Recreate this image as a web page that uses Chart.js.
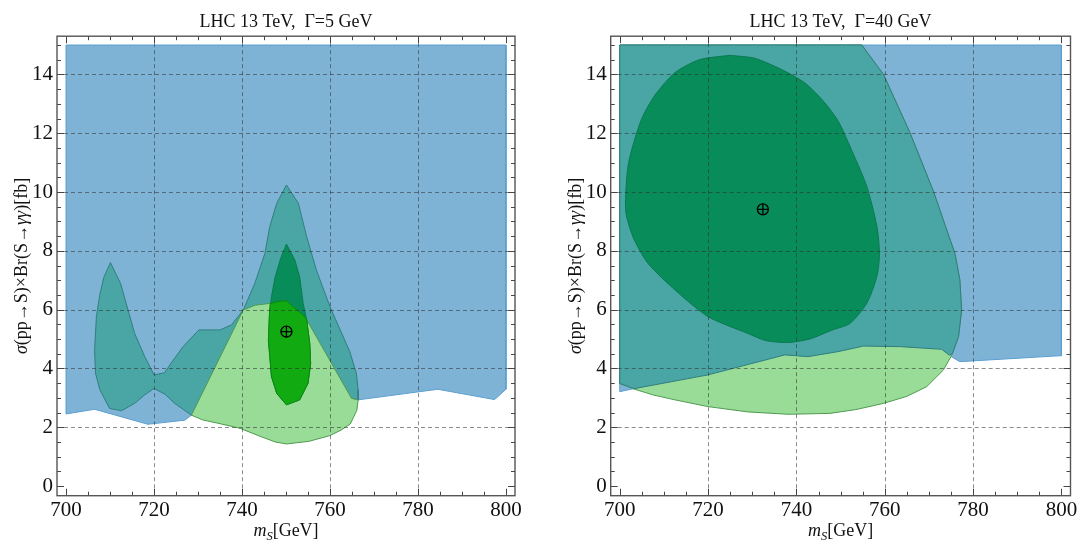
<!DOCTYPE html>
<html>
<head>
<meta charset="utf-8">
<script src="https://cdn.jsdelivr.net/npm/chart.js"></script>
<style>
  html, body { margin: 0; padding: 0; background: #fff; }
  #wrap { position: relative; width: 1078px; height: 541px; overflow: hidden; }
  canvas { position: absolute; top: 0; }
  #left { left: 0; }
  #right { left: 539px; }
</style>
</head>
<body>
<div id="wrap">
  <canvas id="left" width="539" height="541"></canvas>
  <canvas id="right" width="539" height="541"></canvas>
</div>
<script>
// Ejes
const xTicks = [700, 720, 740, 760, 780, 800];
const yTicks = [0, 2, 4, 6, 8, 10, 12, 14];

// Panel izquierdo (Gamma = 5 GeV)
const leftBlueX = [700, 800, 800, 797.4, 784.5, 766.4, 728.5, 727.0, 718.6, 706.5, 700, 700];
const leftBlueY = [15, 15, 3.29, 2.94, 3.29, 2.93, 2.41, 2.24, 2.10, 2.61, 2.45, 15];

const leftTealX = [720.0, 722.4, 723.6, 726.6, 730.2, 735.0, 737.6, 740.3, 742.9, 745.2, 746.3, 747.9, 750.1, 752.8, 754.7, 756.9, 760.0, 764.5, 766.0, 766.4, 766.4, 764.9, 745.0, 728.5, 724.7, 722.5, 720.0, 717.9, 715.6, 712.6, 709.9, 707.7, 706.7, 706.5, 706.9, 707.7, 708.6, 710.1, 712.4, 715.6, 717.9, 720.0];
const leftTealY = [3.78, 3.85, 4.12, 4.74, 5.31, 5.31, 5.48, 5.99, 6.89, 7.91, 8.82, 9.62, 10.24, 9.62, 8.48, 7.35, 6.10, 4.57, 3.83, 3.27, 2.93, 2.98, 2.2, 2.41, 2.81, 3.12, 3.32, 3.10, 2.81, 2.56, 2.64, 3.27, 3.83, 4.63, 5.76, 6.52, 7.1, 7.60, 6.89, 5.19, 4.40, 3.78];

const leftLightX = [728.5, 740.3, 743.0, 746.3, 750.1, 754.3, 764.9, 766.4, 766.1, 764.6, 762.5, 759.9, 755.2, 750.1, 747.5, 744.3, 739.6, 735.0, 731.0, 728.5];
const leftLightY = [2.41, 5.99, 6.15, 6.21, 6.30, 5.76, 2.98, 2.93, 2.57, 2.11, 1.90, 1.71, 1.52, 1.43, 1.50, 1.68, 1.96, 2.12, 2.25, 2.41];

const leftDarkX = [750.1, 752.0, 753.1, 753.9, 754.7, 755.4, 755.6, 755.0, 753.1, 750.1, 747.9, 746.7, 746.0, 746.3, 746.7, 747.5, 748.8, 750.1];
const leftDarkY = [8.23, 7.69, 7.12, 6.21, 5.65, 4.85, 4.17, 3.49, 2.93, 2.76, 3.15, 3.72, 4.97, 5.9, 6.44, 7.09, 7.75, 8.23];

const leftBrightX = [746.4, 748.0, 750.1, 752.0, 754.3, 754.7, 755.4, 755.6, 755.0, 753.1, 750.1, 747.9, 746.7, 746.0, 746.2, 746.4];
const leftBrightY = [6.20, 6.27, 6.30, 6.05, 5.76, 5.65, 4.85, 4.17, 3.49, 2.93, 2.76, 3.15, 3.72, 4.97, 5.8, 6.20];

const leftBest = [750.1, 5.25];

// Panel derecho (Gamma = 40 GeV)
const rightBlueX = [700, 800, 800, 798.5, 777.0, 774.8, 772.9, 763.5, 755.2, 749.4, 742.6, 737.4, 720.0, 703.4, 700, 700];
const rightBlueY = [15, 15, 4.43, 4.42, 4.23, 4.42, 4.65, 4.74, 4.76, 4.57, 4.40, 4.46, 3.78, 3.32, 3.21, 15];

const rightLightX = [700, 754.8, 759.7, 765.7, 771.0, 775.9, 777.0, 777.4, 776.7, 775.2, 773.3, 769.5, 765.0, 759.7, 753.5, 747.6, 738.1, 729.0, 720.0, 712.5, 707.5, 703.4, 700, 700];
const rightLightY = [15, 15, 14.0, 12.02, 10.03, 7.9, 7.01, 5.99, 5.08, 4.46, 3.95, 3.38, 3.05, 2.81, 2.60, 2.47, 2.44, 2.52, 2.70, 2.93, 3.10, 3.29, 3.49, 15];

const rightTealX = [700, 754.8, 759.7, 765.7, 771.0, 775.9, 777.0, 777.4, 776.7, 775.3, 774.6, 772.9, 763.5, 755.2, 749.4, 742.6, 737.4, 720.0, 703.2, 700, 700];
const rightTealY = [15, 15, 14.0, 12.02, 10.03, 7.9, 7.01, 5.99, 5.08, 4.5, 4.45, 4.65, 4.74, 4.76, 4.57, 4.40, 4.46, 3.78, 3.31, 3.49, 15];

const rightDarkX = [724.9, 730.5, 736.6, 742.0, 746.4, 749.5, 752.1, 755.9, 758.2, 758.8, 758.2, 755.9, 752.1, 748.0, 743.0, 738.1, 733.0, 729.0, 720.0, 712.5, 706.4, 703.2, 701.5, 701.3, 702.0, 704.9, 708.0, 712.5, 718.0, 724.9];
const rightDarkY = [14.65, 14.55, 14.17, 13.7, 13.04, 12.4, 11.56, 10.2, 8.84, 7.9, 7.12, 6.21, 5.53, 5.3, 5.0, 4.88, 4.95, 5.19, 5.76, 6.67, 7.57, 8.4, 9.2, 9.75, 11.0, 12.47, 13.3, 14.06, 14.5, 14.65];

const rightBest = [732.4, 9.41];

// Colores
const BLUE = '#7eb3d6', BLUE_EDGE = '#5a9fd0';
const TEAL = '#4aa5a5', TEAL_EDGE = '#2f7f80';
const LIGHT = '#98dc98', LIGHT_EDGE = '#4f9a4f';
const DARK = '#078c5a', DARK_EDGE = '#0a7a50';
const BRIGHT = '#11aa11', BRIGHT_EDGE = '#0c8a0c';

const SERIF = '"Liberation Serif", "DejaVu Serif", serif';

function region(xs, ys, fill, edge, tension) {
    return { xs: xs, ys: ys, fill: fill, edge: edge, tension: tension || 0 };
}

// Dibuja grilla punteada, marco y marcas hacia adentro
function frameAndGrid() {
    return {
        id: 'frameAndGrid',
        afterDatasetsDraw(chart) {
            const { ctx, chartArea: a } = chart;
            const sx = chart.scales.x, sy = chart.scales.y;
            ctx.save();
            ctx.lineWidth = 1;
            ctx.strokeStyle = 'rgba(45,45,45,0.55)';
            ctx.setLineDash([4, 3]);
            ctx.beginPath();
            xTicks.slice(1, -1).forEach(v => {
                const p = Math.round(sx.getPixelForValue(v)) + 0.5;
                ctx.moveTo(p, a.top); ctx.lineTo(p, a.bottom);
            });
            yTicks.slice(1).forEach(v => {
                const p = Math.round(sy.getPixelForValue(v)) + 0.5;
                ctx.moveTo(a.left, p); ctx.lineTo(a.right, p);
            });
            ctx.stroke();
            ctx.setLineDash([]);

            ctx.strokeStyle = '#444';
            ctx.beginPath();
            for (let v = 700; v <= 800; v += 5) {
                const p = Math.round(sx.getPixelForValue(v)) + 0.5;
                const len = v % 20 === 0 ? 7 : 4;
                ctx.moveTo(p, a.bottom); ctx.lineTo(p, a.bottom - len);
                ctx.moveTo(p, a.top); ctx.lineTo(p, a.top + len);
            }
            for (let k = 0; k <= 30; k++) {
                const v = k / 2;
                const p = Math.round(sy.getPixelForValue(v)) + 0.5;
                const len = k % 4 === 0 ? 7 : 4;
                ctx.moveTo(a.left, p); ctx.lineTo(a.left + len, p);
                ctx.moveTo(a.right, p); ctx.lineTo(a.right - len, p);
            }
            ctx.stroke();

            ctx.lineWidth = 1.4;
            ctx.strokeStyle = '#555';
            ctx.strokeRect(a.left, a.top, a.right - a.left, a.bottom - a.top);
            ctx.restore();
        }
    };
}

// Texto con partes en cursiva
function drawRuns(ctx, runs, size) {
    let w = 0;
    runs.forEach(r => {
        ctx.font = (r.italic ? 'italic ' : '') + (r.size || size) + 'px ' + SERIF;
        r.w = ctx.measureText(r.t).width;
        w += r.w;
    });
    let x = -w / 2;
    runs.forEach(r => {
        ctx.font = (r.italic ? 'italic ' : '') + (r.size || size) + 'px ' + SERIF;
        ctx.fillText(r.t, x, r.dy || 0);
        x += r.w;
    });
}

function labels(title) {
    return {
        id: 'labels',
        afterDraw(chart) {
            const { ctx, chartArea: a } = chart;
            const cx = (a.left + a.right) / 2;
            ctx.save();
            ctx.fillStyle = '#111';
            ctx.textAlign = 'left';
            ctx.textBaseline = 'alphabetic';

            // titulo
            ctx.save();
            ctx.translate(cx, 27);
            drawRuns(ctx, [{ t: title }], 18);
            ctx.restore();

            // eje x
            ctx.save();
            ctx.translate(cx, 535.5);
            drawRuns(ctx, [
                { t: 'm', italic: true },
                { t: 'S', italic: true, size: 12.5, dy: 4 },
                { t: '[GeV]' }
            ], 18);
            ctx.restore();

            // eje y
            ctx.save();
            ctx.translate(a.left - 30, (a.top + a.bottom) / 2);
            ctx.rotate(-Math.PI / 2);
            drawRuns(ctx, [
                { t: 'σ', italic: true },
                { t: '(pp→S)×Br(S→' },
                { t: 'γγ', italic: true },
                { t: ')[fb]' }
            ], 18);
            ctx.restore();

            ctx.restore();
        }
    };
}

function makePanel(id, frame, title, regions, best) {
    const canvas = document.getElementById(id);
    const W = canvas.width, H = canvas.height;

    const datasets = regions.map((r, i) => ({
        type: 'line',
        data: r.xs.map((v, k) => ({ x: v, y: r.ys[k] })),
        backgroundColor: r.fill,
        borderColor: r.edge,
        borderWidth: 1,
        fill: 'shape',
        pointRadius: 0,
        tension: r.tension,
        order: 20 - i
    }));
    datasets.push({
        type: 'scatter',
        data: [{ x: best[0], y: best[1] }],
        pointStyle: 'circle',
        pointRadius: 5.5,
        backgroundColor: 'rgba(0,0,0,0)',
        borderColor: '#000',
        borderWidth: 1.3,
        order: 1
    });
    datasets.push({
        type: 'scatter',
        data: [{ x: best[0], y: best[1] }],
        pointStyle: 'cross',
        pointRadius: 5.5,
        borderColor: '#000',
        borderWidth: 1.3,
        order: 0
    });

    const tickFont = { family: SERIF, size: 21 };

    return new Chart(canvas, {
        type: 'line',
        data: { datasets: datasets },
        options: {
            responsive: false,
            animation: false,
            events: [],
            layout: { padding: { left: 0, right: W - frame.right, top: frame.top, bottom: 0 } },
            plugins: { legend: { display: false }, tooltip: { enabled: false } },
            scales: {
                x: {
                    type: 'linear',
                    min: 697.95,
                    max: 802.05,
                    afterBuildTicks: s => { s.ticks = xTicks.map(v => ({ value: v })); },
                    afterFit: s => { s.height = H - frame.bottom; s.paddingLeft = 0; s.paddingRight = 0; },
                    grid: { display: false, drawTicks: false },
                    border: { display: false },
                    ticks: { font: tickFont, color: '#111', padding: 2, maxRotation: 0, autoSkip: false }
                },
                y: {
                    type: 'linear',
                    min: -0.33,
                    max: 15.3,
                    afterBuildTicks: s => { s.ticks = yTicks.map(v => ({ value: v })); },
                    afterFit: s => { s.width = frame.left; s.paddingTop = 0; s.paddingBottom = 0; },
                    grid: { display: false, drawTicks: false },
                    border: { display: false },
                    ticks: { font: tickFont, color: '#111', padding: 4, autoSkip: false }
                }
            }
        },
        plugins: [frameAndGrid(), labels(title)]
    });
}

makePanel('left', { left: 57, right: 515, top: 36.2, bottom: 495.7 }, 'LHC 13 TeV,  Γ=5 GeV', [
    region(leftBlueX, leftBlueY, BLUE, BLUE_EDGE),
    region(leftTealX, leftTealY, TEAL, TEAL_EDGE),
    region(leftLightX, leftLightY, LIGHT, LIGHT_EDGE),
    region(leftDarkX, leftDarkY, DARK, DARK_EDGE),
    region(leftBrightX, leftBrightY, BRIGHT, BRIGHT_EDGE)
], leftBest);

makePanel('right', { left: 71.7, right: 531.5, top: 36.2, bottom: 495.7 }, 'LHC 13 TeV,  Γ=40 GeV', [
    region(rightBlueX, rightBlueY, BLUE, BLUE_EDGE),
    region(rightLightX, rightLightY, LIGHT, LIGHT_EDGE),
    region(rightTealX, rightTealY, TEAL, TEAL_EDGE),
    region(rightDarkX, rightDarkY, DARK, DARK_EDGE, 0.25)
], rightBest);
</script>
</body>
</html>
